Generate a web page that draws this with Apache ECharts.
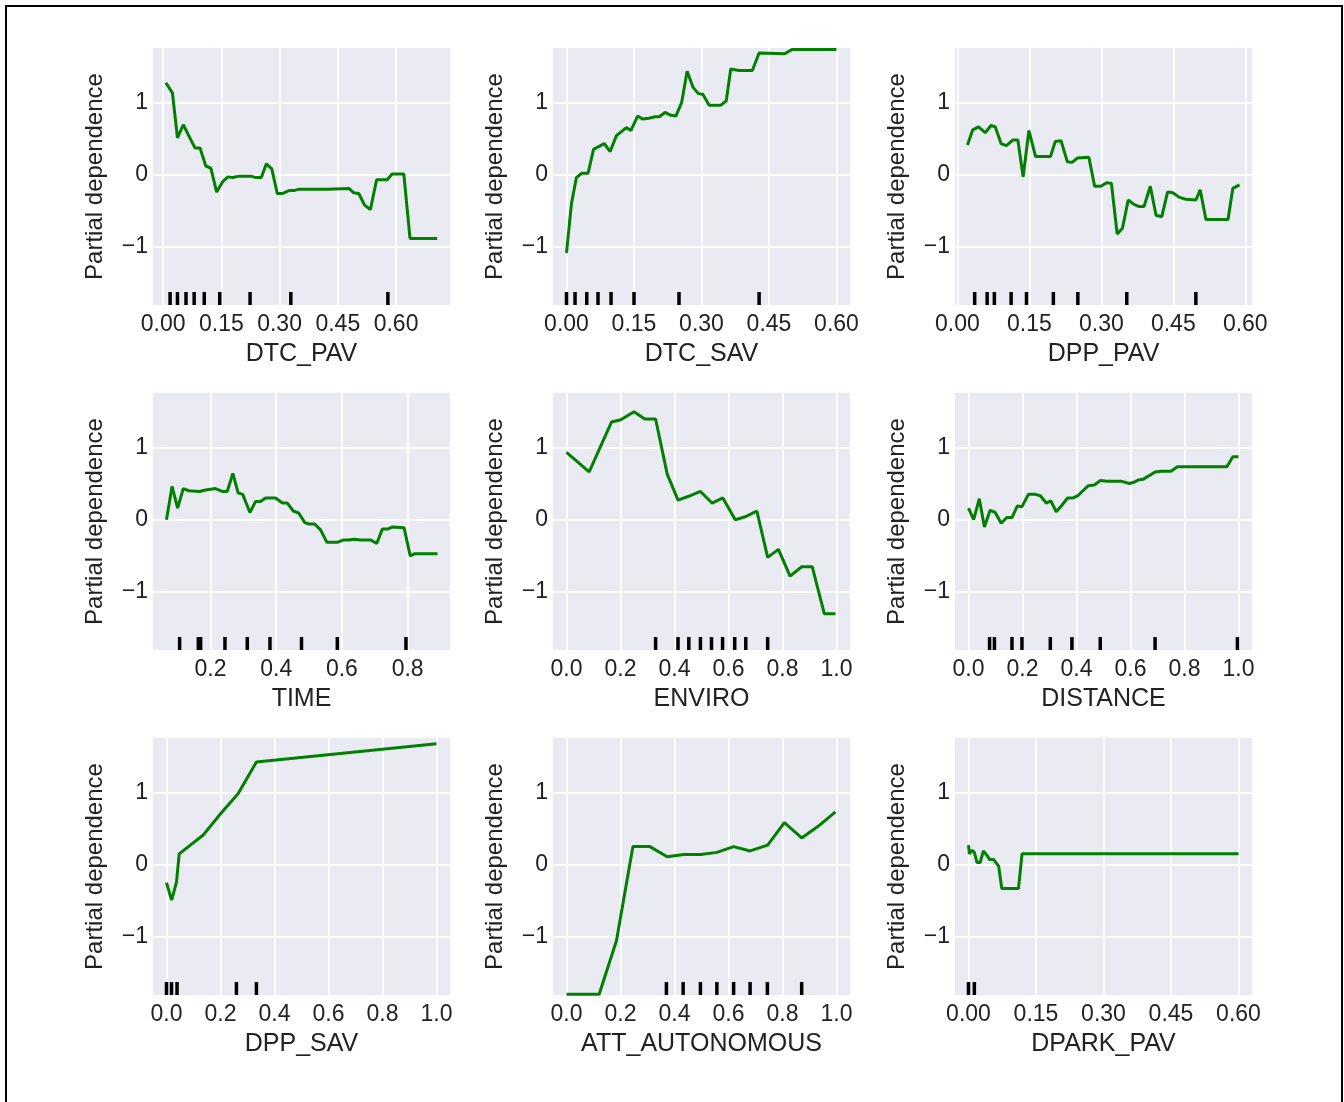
<!DOCTYPE html>
<html>
<head>
<meta charset="utf-8">
<script src="https://cdn.jsdelivr.net/npm/echarts@6/dist/echarts.min.js"></script>
<style>
  html, body { margin: 0; padding: 0; background: #fff; }
  #chart { position: absolute; left: 0; top: 0; width: 1344px; height: 1102px; }
  #frame { position: absolute; left: 5px; top: 5px; width: 1334px; height: 1120px; border: 2px solid #000; pointer-events: none; }
</style>
</head>
<body>
<div id="chart"></div>
<div id="frame"></div>
<script>
// partial dependence curves
const dtcPavX = [0.007,0.024,0.037,0.052,0.067,0.082,0.095,0.110,0.123,0.138,0.153,0.167,0.179,0.196,0.226,0.239,0.253,0.266,0.280,0.294,0.307,0.324,0.337,0.350,0.423,0.479,0.491,0.504,0.519,0.534,0.550,0.577,0.590,0.620,0.636,0.706]
const dtcPavY = [1.27,1.13,0.51,0.69,0.53,0.37,0.37,0.12,0.09,-0.24,-0.10,-0.03,-0.04,-0.02,-0.02,-0.04,-0.04,0.15,0.08,-0.26,-0.26,-0.22,-0.22,-0.20,-0.20,-0.19,-0.25,-0.26,-0.42,-0.48,-0.07,-0.07,0.01,0.01,-0.88,-0.88]
const dtcPavRug = [0.018,0.037,0.059,0.080,0.106,0.146,0.224,0.329,0.579]

const dtcSavX = [0.000,0.011,0.022,0.034,0.048,0.060,0.084,0.097,0.111,0.133,0.143,0.158,0.169,0.183,0.197,0.206,0.219,0.232,0.243,0.256,0.268,0.281,0.293,0.303,0.317,0.343,0.355,0.365,0.383,0.413,0.428,0.485,0.501,0.600]
const dtcSavY = [-1.08,-0.40,-0.04,0.02,0.02,0.35,0.43,0.32,0.54,0.65,0.61,0.81,0.77,0.78,0.80,0.80,0.86,0.82,0.81,1.00,1.43,1.21,1.12,1.11,0.96,0.96,1.02,1.46,1.44,1.44,1.68,1.67,1.73,1.73]
const dtcSavRug = [0.000,0.019,0.045,0.070,0.099,0.150,0.250,0.428]

const dppPavX = [0.021,0.032,0.044,0.058,0.070,0.079,0.091,0.102,0.116,0.126,0.137,0.149,0.163,0.194,0.204,0.216,0.229,0.239,0.250,0.274,0.286,0.299,0.311,0.321,0.333,0.344,0.356,0.368,0.379,0.389,0.402,0.414,0.426,0.438,0.449,0.462,0.476,0.497,0.506,0.518,0.564,0.574,0.588]
const dppPavY = [0.41,0.62,0.66,0.58,0.68,0.66,0.43,0.40,0.48,0.48,-0.03,0.61,0.25,0.25,0.46,0.47,0.18,0.17,0.23,0.24,-0.16,-0.16,-0.11,-0.12,-0.82,-0.74,-0.35,-0.41,-0.44,-0.44,-0.16,-0.56,-0.58,-0.24,-0.25,-0.31,-0.34,-0.35,-0.21,-0.62,-0.62,-0.19,-0.14]
const dppPavRug = [0.036,0.062,0.077,0.112,0.144,0.200,0.251,0.353,0.497]

const timeX = [0.066,0.083,0.100,0.117,0.134,0.167,0.185,0.215,0.236,0.251,0.268,0.284,0.298,0.320,0.337,0.352,0.368,0.398,0.419,0.434,0.452,0.469,0.487,0.500,0.517,0.535,0.554,0.588,0.605,0.622,0.637,0.657,0.688,0.706,0.723,0.739,0.754,0.789,0.808,0.822,0.891]
const timeY = [0.00,0.46,0.16,0.43,0.40,0.39,0.41,0.43,0.39,0.39,0.64,0.37,0.35,0.10,0.25,0.25,0.30,0.30,0.23,0.23,0.12,0.09,-0.04,-0.06,-0.06,-0.14,-0.31,-0.31,-0.28,-0.28,-0.27,-0.28,-0.28,-0.33,-0.13,-0.13,-0.10,-0.11,-0.50,-0.47,-0.47]
const timeRug = [0.106,0.163,0.170,0.244,0.312,0.381,0.477,0.586,0.795]

const enviroX = [0.0,0.084,0.167,0.201,0.250,0.290,0.330,0.373,0.413,0.450,0.496,0.539,0.579,0.625,0.662,0.705,0.745,0.785,0.828,0.871,0.910,0.955,0.996]
const enviroY = [0.93,0.66,1.35,1.38,1.49,1.39,1.39,0.63,0.27,0.32,0.39,0.23,0.30,0.00,0.04,0.12,-0.52,-0.41,-0.78,-0.65,-0.65,-1.30,-1.30]
const enviroRug = [0.330,0.413,0.453,0.496,0.537,0.578,0.623,0.664,0.745]

const distanceX = [0.0,0.019,0.040,0.059,0.080,0.099,0.121,0.142,0.161,0.181,0.198,0.222,0.247,0.266,0.288,0.305,0.325,0.346,0.367,0.387,0.404,0.424,0.444,0.466,0.488,0.513,0.568,0.596,0.615,0.630,0.648,0.670,0.691,0.713,0.750,0.774,0.870,0.957,0.979,1.0]
const distanceY = [0.16,0.00,0.29,-0.10,0.13,0.10,-0.05,0.03,0.03,0.19,0.18,0.35,0.35,0.33,0.23,0.26,0.11,0.20,0.30,0.30,0.33,0.40,0.47,0.48,0.54,0.53,0.53,0.50,0.52,0.55,0.56,0.61,0.66,0.67,0.67,0.73,0.73,0.73,0.87,0.87]
const distanceRug = [0.078,0.096,0.161,0.198,0.303,0.383,0.488,0.691,0.996]

const dppSavX = [0.0,0.019,0.037,0.047,0.136,0.204,0.265,0.333,1.0]
const dppSavY = [-0.25,-0.49,-0.24,0.15,0.41,0.72,0.98,1.42,1.67]
const dppSavRug = [0.0,0.0185,0.039,0.259,0.333]

const attAutoX = [0.0,0.06,0.121,0.185,0.246,0.309,0.373,0.434,0.496,0.557,0.619,0.680,0.745,0.807,0.871,0.932,0.996]
const attAutoY = [-1.79,-1.79,-1.79,-1.05,0.25,0.25,0.11,0.14,0.14,0.17,0.25,0.19,0.27,0.58,0.37,0.53,0.73]
const attAutoRug = [0.370,0.432,0.496,0.557,0.619,0.680,0.744,0.871]

const dparkPavX = [0.0,0.002,0.008,0.013,0.019,0.026,0.033,0.041,0.047,0.056,0.067,0.074,0.111,0.119,0.600]
const dparkPavY = [0.27,0.15,0.20,0.17,0.03,0.03,0.19,0.13,0.07,0.07,-0.02,-0.33,-0.33,0.15,0.15]
const dparkPavRug = [0.0,0.013]

// tick labels
const ticks015 = [0, 0.15, 0.30, 0.45, 0.60]
const ticks02 = [0, 0.2, 0.4, 0.6, 0.8, 1.0]
const ticksTime = [0.2, 0.4, 0.6, 0.8]
const yTicks = [-1, 0, 1]
const Y_MIN = -1.8
const Y_MAX = 1.75

const panels = [
  { name: 'DTC_PAV', x: dtcPavX, y: dtcPavY, rug: dtcPavRug, min: -0.026, max: 0.739, ticks: ticks015, dec: 2 },
  { name: 'DTC_SAV', x: dtcSavX, y: dtcSavY, rug: dtcSavRug, min: -0.03, max: 0.63, ticks: ticks015, dec: 2 },
  { name: 'DPP_PAV', x: dppPavX, y: dppPavY, rug: dppPavRug, min: -0.005, max: 0.614, ticks: ticks015, dec: 2 },
  { name: 'TIME', x: timeX, y: timeY, rug: timeRug, min: 0.025, max: 0.929, ticks: ticksTime, dec: 1 },
  { name: 'ENVIRO', x: enviroX, y: enviroY, rug: enviroRug, min: -0.05, max: 1.05, ticks: ticks02, dec: 1 },
  { name: 'DISTANCE', x: distanceX, y: distanceY, rug: distanceRug, min: -0.05, max: 1.05, ticks: ticks02, dec: 1 },
  { name: 'DPP_SAV', x: dppSavX, y: dppSavY, rug: dppSavRug, min: -0.05, max: 1.05, ticks: ticks02, dec: 1 },
  { name: 'ATT_AUTONOMOUS', x: attAutoX, y: attAutoY, rug: attAutoRug, min: -0.05, max: 1.05, ticks: ticks02, dec: 1 },
  { name: 'DPARK_PAV', x: dparkPavX, y: dparkPavY, rug: dparkPavRug, min: -0.03, max: 0.63, ticks: ticks015, dec: 2 }
]

const colLeft = [153, 553, 955]
const rowTop = [48, 393, 738]
const font = 'Liberation Sans, Arial, sans-serif'
const textColor = '#222'

const chart = echarts.init(document.getElementById('chart'))

const option = {
  animation: false,
  backgroundColor: '#fff',
  grid: panels.map((p, i) => ({
    left: colLeft[i % 3],
    top: rowTop[Math.floor(i / 3)],
    width: 297,
    height: 257,
    show: true,
    backgroundColor: '#EAEAF2',
    borderWidth: 0,
    outerBoundsMode: 'none'
  })),
  xAxis: panels.map((p, i) => ({
    gridIndex: i,
    type: 'value',
    min: p.min,
    max: p.max,
    axisLine: { show: false },
    axisTick: { show: false, customValues: p.ticks },
    axisLabel: {
      customValues: p.ticks,
      formatter: v => v.toFixed(p.dec),
      fontSize: 23,
      fontFamily: font,
      color: textColor,
      margin: 8
    },
    splitLine: { show: true, lineStyle: { color: '#fff', width: 2 } },
    name: p.name,
    nameLocation: 'middle',
    nameGap: 37,
    nameTextStyle: { fontSize: 25, fontFamily: font, color: textColor }
  })),
  yAxis: panels.map((p, i) => ({
    gridIndex: i,
    type: 'value',
    min: Y_MIN,
    max: Y_MAX,
    axisLine: { show: false },
    axisTick: { show: false, customValues: yTicks },
    axisLabel: {
      customValues: yTicks,
      formatter: v => (v < 0 ? '\u2212' + Math.abs(v) : String(v)),
      fontSize: 23,
      fontFamily: font,
      color: textColor,
      margin: 5
    },
    splitLine: { show: true, lineStyle: { color: '#fff', width: 2 } },
    name: 'Partial dependence',
    nameLocation: 'middle',
    nameRotate: 90,
    nameGap: 46,
    nameTextStyle: { fontSize: 24, fontFamily: font, color: textColor }
  })),
  series: panels.flatMap((p, i) => [
    {
      type: 'line',
      xAxisIndex: i,
      yAxisIndex: i,
      data: p.x.map((v, k) => [v, p.y[k]]),
      symbol: 'none',
      lineStyle: { color: '#007f00', width: 3 },
      z: 3
    },
    {
      type: 'scatter',
      xAxisIndex: i,
      yAxisIndex: i,
      data: p.rug.map(v => [v, Y_MIN]),
      symbol: 'rect',
      symbolSize: [3.5, 13],
      symbolOffset: [0, -6.5],
      itemStyle: { color: '#000', opacity: 1 },
      clip: false,
      silent: true,
      z: 4
    }
  ])
}

option && chart.setOption(option)
</script>
</body>
</html>
